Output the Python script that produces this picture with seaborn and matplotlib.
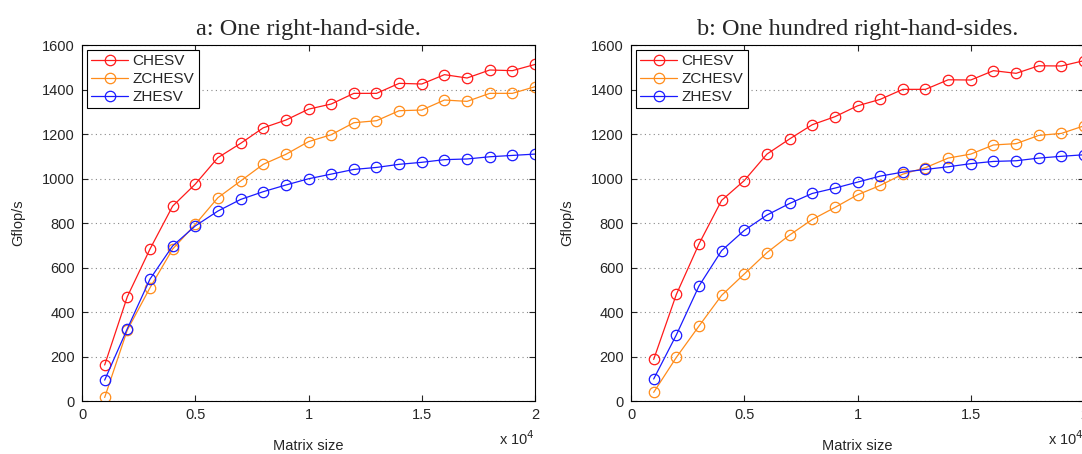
import numpy as np
import seaborn as sns
import matplotlib.pyplot as plt

sns.set_style("white")
plt.rcParams['font.family'] = ['Liberation Sans', 'DejaVu Sans']

sizes = [1000, 2000, 3000, 4000, 5000, 6000, 7000, 8000, 9000, 10000,
         11000, 12000, 13000, 14000, 15000, 16000, 17000, 18000, 19000, 20000]

# a: one right-hand-side
chesv_a = [162, 469, 683, 876, 975, 1094, 1158, 1228, 1263, 1312,
           1335, 1383, 1383, 1428, 1425, 1467, 1452, 1488, 1485, 1513]
zchesv_a = [16, 319, 509, 683, 794, 914, 989, 1064, 1109, 1166,
            1197, 1251, 1260, 1305, 1308, 1353, 1347, 1383, 1383, 1413]
zhesv_a = [94, 325, 548, 697, 787, 854, 906, 941, 971, 999,
           1020, 1041, 1050, 1064, 1073, 1085, 1088, 1098, 1104, 1110]

# b: one hundred right-hand-sides
chesv_b = [187, 479, 706, 902, 991, 1110, 1178, 1242, 1278, 1327,
           1356, 1401, 1401, 1444, 1443, 1485, 1473, 1507, 1506, 1530]
zchesv_b = [39, 196, 337, 475, 571, 667, 746, 816, 870, 927,
            969, 1020, 1049, 1092, 1110, 1151, 1157, 1194, 1203, 1237]
zhesv_b = [99, 297, 517, 676, 767, 836, 888, 933, 957, 984,
           1011, 1029, 1041, 1053, 1067, 1077, 1080, 1092, 1100, 1107]

names = ["CHESV", "ZCHESV", "ZHESV"]
colors = ["#ff1a1a", "#ff8c1a", "#1a1aff"]
titles = ["a: One right-hand-side.", "b: One hundred right-hand-sides."]
panels = [[chesv_a, zchesv_a, zhesv_a], [chesv_b, zchesv_b, zhesv_b]]

fig = plt.figure(figsize=(10.82, 4.54), dpi=100)
axes = [fig.add_axes([0.0758, 0.1167, 0.4187, 0.784]),
        fig.add_axes([0.5832, 0.1167, 0.4187, 0.784])]

for ax, title, series in zip(axes, titles, panels):
    for name, c, vals in zip(names, colors, series):
        sns.lineplot(x=sizes, y=vals, ax=ax, color=c, marker='o', markersize=7.5,
                     markerfacecolor='none', markeredgecolor=c, markeredgewidth=0.9,
                     linewidth=0.9, label=name)
    ax.set_xlim(0, 20000)
    ax.set_ylim(0, 1600)
    ax.set_xticks([0, 5000, 10000, 15000, 20000])
    ax.set_xticklabels(["0", "0.5", "1", "1.5", "2"])
    ax.set_yticks(range(0, 1601, 200))
    ax.tick_params(direction='in', length=4, width=0.8, labelsize=10.5,
                   top=True, right=True, bottom=True, left=True, pad=5)
    ax.yaxis.grid(True, linestyle=(0, (1, 3)), color='#888888', linewidth=0.8)
    for s in ax.spines.values():
        s.set_visible(True)
        s.set_color('black')
        s.set_linewidth(0.8)
    ax.set_title(title, family=['Liberation Serif', 'DejaVu Serif'], fontsize=17.5, pad=7)
    ax.set_ylabel("Gflop/s", fontsize=10.5, labelpad=12)
    ax.set_xlabel("Matrix size", fontsize=10.5, labelpad=12)
    ax.text(1.0, -0.105, r"x 10$^4$", transform=ax.transAxes, ha='right', va='center',
            fontsize=10.5)
    leg = ax.legend(loc='upper left', fontsize=11, fancybox=False, framealpha=1,
                    edgecolor='black', borderaxespad=0.3, handlelength=2.4,
                    handletextpad=0.3, labelspacing=0.25, borderpad=0.3)
    leg.get_frame().set_linewidth(0.8)

plt.savefig("out.png", dpi=100)
